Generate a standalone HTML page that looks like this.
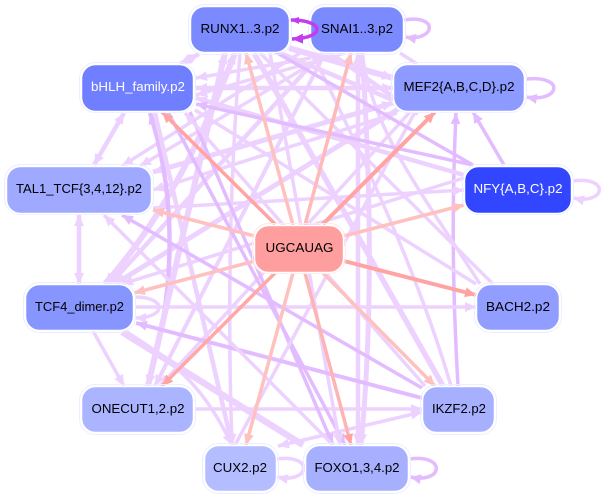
<!DOCTYPE html>
<html><head><meta charset="utf-8"><style>
html,body{margin:0;padding:0;background:#fff}
svg{display:block}
text{font-family:"Liberation Sans",sans-serif;font-size:12.5px;text-anchor:middle;fill:#000}
.l{fill:none;stroke:#edd2ff;stroke-width:3.5}
.d{fill:none;stroke:#e3bcff;stroke-width:3.5}
.n{stroke:#fff;stroke-width:1.5}
.o{fill:none;stroke:#eceeff;stroke-width:1}
</style></head><body>
<svg width="603" height="498" viewBox="0 0 603 498" xmlns="http://www.w3.org/2000/svg">
<defs>
<marker id="a" markerUnits="userSpaceOnUse" markerWidth="14" markerHeight="12" refX="11" refY="6" orient="auto-start-reverse"><path d="M0,1L11,6L0,11z" fill="#edd2ff"/></marker>
<marker id="b" markerUnits="userSpaceOnUse" markerWidth="14" markerHeight="12" refX="11" refY="6" orient="auto-start-reverse"><path d="M0,1L11,6L0,11z" fill="#e3bcff"/></marker>
<marker id="c" markerUnits="userSpaceOnUse" markerWidth="14" markerHeight="12" refX="11" refY="6" orient="auto-start-reverse"><path d="M0,1L11,6L0,11z" fill="#ffc0c0"/></marker>
<marker id="e" markerUnits="userSpaceOnUse" markerWidth="14" markerHeight="12" refX="11" refY="6" orient="auto-start-reverse"><path d="M0,1L11,6L0,11z" fill="#ffa3a3"/></marker>
<marker id="f" markerUnits="userSpaceOnUse" markerWidth="14" markerHeight="12" refX="11" refY="6" orient="auto-start-reverse"><path d="M0,1L11,6L0,11z" fill="#c43cf0"/></marker>
</defs>

<g>
<path class="l" style="stroke-width:4.5" d="M124,113L94,165" marker-start="url(#a)" marker-end="url(#a)"/>
<path class="l" style="stroke-width:4.5" d="M79,215V284" marker-start="url(#a)" marker-end="url(#a)"/>
<path class="l" d="M93,331L124,386" marker-end="url(#a)"/>
<path class="l" style="stroke-width:4.500" d="M180,64L199,54" marker-start="url(#a)" marker-end="url(#a)"/>
<path class="l" d="M400,53L417,64"/>
<path class="d" d="M504,165L473,112" marker-end="url(#b)"/>
<path class="d" d="M458,386C452,280 452,200 456,113" marker-end="url(#b)"/>
<path class="l" style="stroke-width:4.5" d="M358,53V445" marker-start="url(#a)" marker-end="url(#a)"/>
<path class="l" style="stroke-width:5" d="M362,53C372,200 372,330 361,445" marker-end="url(#a)"/>
<path class="l" style="stroke-width:4.500" d="M196,88H393" marker-start="url(#a)" marker-end="url(#a)"/>
<path class="l" d="M135,307H476" marker-end="url(#a)"/>
<path class="l" d="M196,409H422" marker-end="url(#a)"/>
<path class="l" d="M153,208L464,190" marker-end="url(#a)"/>
<path class="l" style="stroke-width:6" d="M235,53C205,130 170,210 105,284" marker-start="url(#a)" marker-end="url(#a)"/>
<path class="l" style="stroke-width:4.500" d="M322,53L110,284" marker-start="url(#a)" marker-end="url(#a)"/>
<path class="l" style="stroke-width:5" d="M400,108L115,284" marker-end="url(#a)"/>
<path class="l" d="M464,178L122,284" marker-end="url(#a)"/>
<path class="l" style="stroke-width:5" d="M393,103L153,172" marker-start="url(#a)" marker-end="url(#a)"/>
<path class="l" d="M397,113L153,190" marker-start="url(#a)" marker-end="url(#a)"/>
<path class="l" d="M330,53L140,166" marker-end="url(#a)"/>
<path class="l" d="M300,53L122,166" marker-end="url(#a)"/>
<path class="d" style="stroke-width:4.5" d="M150,113C178,200 175,300 147,386" marker-start="url(#b)"/>
<path class="l" style="stroke-width:4.500" d="M155,113L232,445" marker-end="url(#a)"/>
<path class="l" d="M240,53C228,200 228,330 232,445" marker-end="url(#a)"/>
<path class="l" style="stroke-width:6" d="M225,53L148,386" marker-start="url(#a)" marker-end="url(#a)"/>
<path class="l" style="stroke-width:4" d="M325,53L155,386" marker-end="url(#a)"/>
<path class="l" d="M410,112L160,386" marker-end="url(#a)"/>
<path class="l" style="stroke-width:6.500" d="M122,332L303,445"/>
<path class="l" d="M125,331C180,365 205,390 232,445" marker-end="url(#a)"/>
<path class="l" d="M422,412L278,446" marker-start="url(#a)" marker-end="url(#a)"/>
<path class="l" style="stroke-width:5.500" d="M254,53L443,386"/>
<path class="l" d="M312,53C370,170 420,280 451,386"/>
<path class="d" d="M168,112L345,445" marker-end="url(#b)"/>
<path class="d" d="M190,112L333,445" marker-end="url(#b)"/>
<path class="l" d="M195,110L476,284"/>
<path class="l" d="M260,53L493,284"/>
<path class="l" style="stroke-width:6" d="M289,48L393,78" marker-end="url(#a)"/>
<path class="l" d="M196,78L311,58" marker-start="url(#a)"/>
<path class="l" style="stroke-width:4.500" d="M196,98L464,175" marker-start="url(#a)"/>
<path class="l" d="M185,113L425,386" marker-start="url(#a)"/>
<path class="l" d="M362,53C372,130 420,190 480,284"/>
<path class="l" d="M415,112L235,445"/>
<path class="l" d="M270,53L340,445" marker-end="url(#a)"/>
<path class="l" d="M345,53L196,95" marker-end="url(#a)"/>
<path class="l" style="stroke-width:4.500" d="M330,53L418,114"/>
<path class="l" style="stroke-width:4.500" d="M280,53L393,100"/>
<path class="d" d="M196,104L473,165" marker-start="url(#b)"/>
<path class="d" d="M272,50L473,165"/>
<path class="d" d="M122,215L422,388" marker-start="url(#b)"/>
<path class="d" style="stroke-width:4" d="M136,323L422,398" marker-start="url(#b)"/>
<path class="l" d="M104,215L333,445" marker-start="url(#a)"/>
<path class="d" d="M404,20C440,14 435,42 405,37" marker-end="url(#b)"/>
<path class="d" d="M526,79C566,75 560,103 526,97" marker-end="url(#b)"/>
<path class="l" d="M573,181C610,176 606,205 573,198" marker-end="url(#a)"/>
<path class="l" d="M135,297C167,297 167,318 135,318" marker-end="url(#a)"/>
<path class="l" d="M277,459C315,454 310,484 277,477" marker-end="url(#a)"/>
<path class="d" d="M410,459C446,454 444,484 410,477" marker-end="url(#b)"/>
</g>

<g fill="none" stroke-width="3.500">
<path d="M275,224L162,112" stroke="#ffa3a3" marker-end="url(#e)"/>
<path d="M293,225L246,53" stroke="#ffc0c0" marker-end="url(#c)"/>
<path d="M305,225L351,53" stroke="#ffb9b9" marker-end="url(#c)"/>
<path d="M323,224L435,112" stroke="#ffa3a3" stroke-width="4" marker-end="url(#e)"/>
<path d="M344,236L464,205" stroke="#ffc0c0" marker-end="url(#c)"/>
<path d="M255,236L153,210" stroke="#ffc0c0" marker-end="url(#c)"/>
<path d="M255,261L134,293" stroke="#ffc0c0" marker-end="url(#c)"/>
<path d="M344,261L476,295" stroke="#ffa3a3" stroke-width="4" marker-end="url(#e)"/>
<path d="M275,273L162,386" stroke="#ffa8a8" marker-end="url(#e)"/>
<path d="M293,273L246,445" stroke="#ffc0c0" marker-end="url(#c)"/>
<path d="M305,273L351,445" stroke="#ffb4b4" marker-end="url(#e)"/>
<path d="M323,273L435,386" stroke="#ffc0c0" marker-end="url(#c)"/>
</g>

<g>
<rect class="o" x="188.500" y="4.500" width="103" height="50" rx="16"/><rect class="n" x="190.500" y="6.500" width="99" height="46" rx="14" fill="#7b8bff"/><text x="240" y="33" textLength="79" lengthAdjust="spacingAndGlyphs">RUNX1..3.p2</text>
<rect class="o" x="308.500" y="4.500" width="97" height="50" rx="16"/><rect class="n" x="310.500" y="6.500" width="93" height="46" rx="14" fill="#7b8bff"/><text x="357" y="33" textLength="72" lengthAdjust="spacingAndGlyphs">SNAI1..3.p2</text>
<rect class="o" x="79.500" y="62.500" width="116" height="50" rx="16"/><rect class="n" x="81.500" y="64.500" width="112" height="47" rx="14" fill="#6f7fff"/><text x="138" y="91" textLength="94" lengthAdjust="spacingAndGlyphs" style="fill:#fff">bHLH_family.p2</text>
<rect class="o" x="391.500" y="62.500" width="135" height="50" rx="16"/><rect class="n" x="393.500" y="64.500" width="131" height="47" rx="14" fill="#8d9aff"/><text x="459" y="91" textLength="111" lengthAdjust="spacingAndGlyphs">MEF2{A,B,C,D}.p2</text>
<rect class="o" x="4.500" y="164.500" width="149" height="50" rx="16"/><rect class="n" x="6.500" y="166.500" width="145" height="47" rx="14" fill="#9ea9ff"/><text x="79" y="193" textLength="126" lengthAdjust="spacingAndGlyphs">TAL1_TCF{3,4,12}.p2</text>
<rect class="o" x="462.500" y="164.500" width="111" height="50" rx="16"/><rect class="n" x="464.500" y="166.500" width="107" height="47" rx="14" fill="#3346ff"/><text x="518" y="193" textLength="89" lengthAdjust="spacingAndGlyphs" style="fill:#fff">NFY{A,B,C}.p2</text>
<rect class="o" x="252.500" y="223.500" width="93" height="50" rx="16" style="stroke:#ffe9e9"/><rect class="n" x="254.500" y="225.500" width="89" height="47" rx="14" fill="#ff9e9e"/><text x="299.500" y="252" textLength="68" lengthAdjust="spacingAndGlyphs">UGCAUAG</text>
<rect class="o" x="23.500" y="282.500" width="112" height="50" rx="16"/><rect class="n" x="25.500" y="284.500" width="108" height="46" rx="14" fill="#8795ff"/><text x="79.500" y="311" textLength="89" lengthAdjust="spacingAndGlyphs">TCF4_dimer.p2</text>
<rect class="o" x="474.500" y="282.500" width="87" height="50" rx="16"/><rect class="n" x="476.500" y="284.500" width="83" height="46" rx="14" fill="#919dff"/><text x="518" y="311" textLength="64" lengthAdjust="spacingAndGlyphs">BACH2.p2</text>
<rect class="o" x="79.500" y="384.500" width="116" height="50" rx="16"/><rect class="n" x="81.500" y="386.500" width="112" height="46" rx="14" fill="#abb5ff"/><text x="138" y="413" textLength="93" lengthAdjust="spacingAndGlyphs">ONECUT1,2.p2</text>
<rect class="o" x="420.500" y="384.500" width="76" height="50" rx="16"/><rect class="n" x="422.500" y="386.500" width="72" height="46" rx="14" fill="#a6b0ff"/><text x="459" y="413" textLength="54" lengthAdjust="spacingAndGlyphs">IKZF2.p2</text>
<rect class="o" x="202.500" y="443.500" width="76" height="50" rx="16"/><rect class="n" x="204.500" y="445.500" width="72" height="46" rx="14" fill="#b4bdff"/><text x="240" y="472" textLength="54" lengthAdjust="spacingAndGlyphs">CUX2.p2</text>
<rect class="o" x="303.500" y="443.500" width="107" height="50" rx="16"/><rect class="n" x="305.500" y="445.500" width="103" height="46" rx="14" fill="#a6b0ff"/><text x="357" y="472" textLength="85" lengthAdjust="spacingAndGlyphs">FOXO1,3,4.p2</text>
</g>
<path d="M291,20C325,20 326,38 292,39" fill="none" stroke="#c43cf0" stroke-width="3.500" marker-end="url(#f)"/>
<path d="M299,17L290,20L299,24z" fill="#c43cf0"/>
</svg>
</body></html>
